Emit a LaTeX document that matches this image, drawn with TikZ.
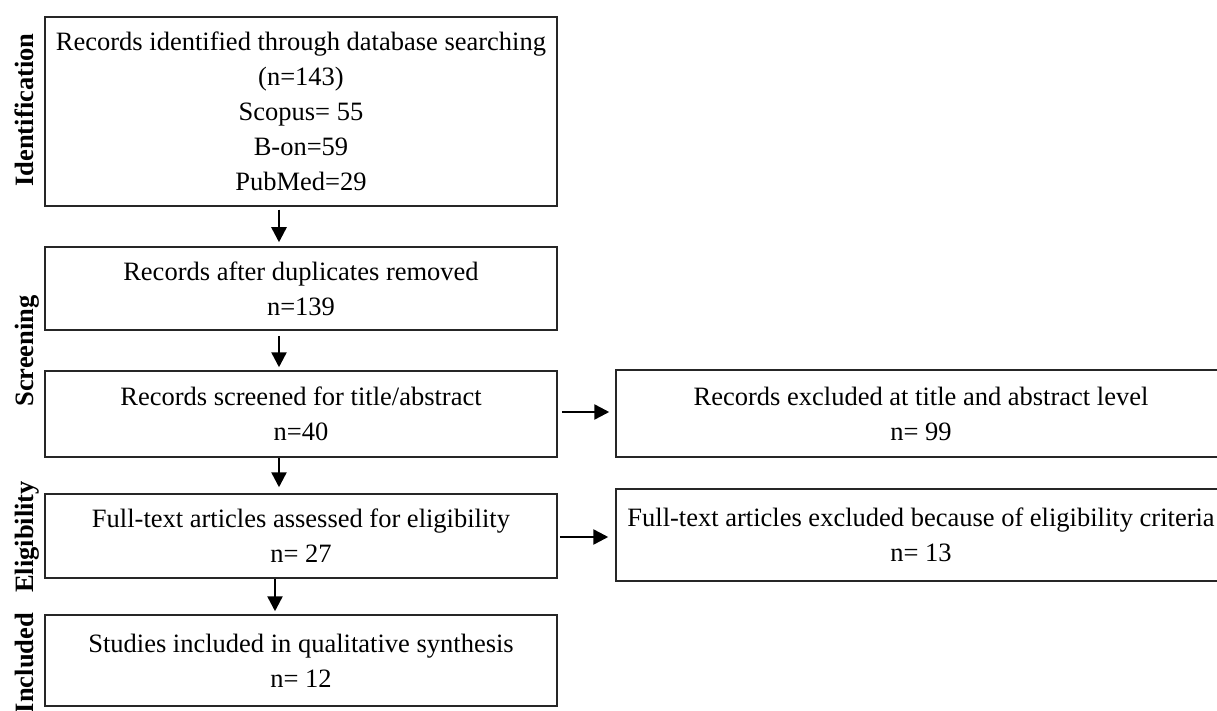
\documentclass[tikz,border=0pt]{standalone}
\usepackage{fontspec}
\setmainfont{Liberation Serif}
\usetikzlibrary{arrows.meta}
\begin{document}
\begin{tikzpicture}[x=1pt,y=-1pt,
  box/.style={draw=black!85, line width=1.5pt, minimum width=512pt, inner sep=0pt, align=center, font=\fontsize{26.5}{35}\selectfont},
  rbox/.style={box, minimum width=610pt},
  lab/.style={rotate=90, anchor=base, inner sep=0pt, font=\fontsize{26.5}{30}\selectfont\bfseries},
  arr/.style={line width=2.5pt, -{Triangle[length=15pt,width=15pt]}}]
\useasboundingbox (0,0) rectangle (1217,711);
\clip (0,0) rectangle (1217,711);
\node[box, minimum height=189pt] (b1) at (301,111.5) {Records identified through database searching\\(n=143)\\Scopus= 55\\B-on=59\\PubMed=29};
\node[box, minimum height=83pt] (b2) at (301,288.5) {Records after duplicates removed\\n=139};
\node[box, minimum height=86pt] (b3) at (301,414) {Records screened for title/abstract\\n=40};
\node[box, minimum height=84pt] (b4) at (301,536) {Full-text articles assessed for eligibility\\n= 27};
\node[box, minimum height=91pt] (b5) at (301,660.5) {Studies included in qualitative synthesis\\n= 12};
\node[rbox, minimum height=87pt] (r1) at (921,413.5) {Records excluded at title and abstract level\\n= 99};
\node[rbox, minimum height=92pt] (r2) at (921,535) {Full-text articles excluded because of eligibility criteria\\n= 13};
\draw[arr, shorten <=3pt, shorten >=4pt] ([xshift=-22pt]b1.south) -- ([xshift=-22pt]b2.north);
\draw[arr, shorten <=5pt, shorten >=3pt] ([xshift=-22pt]b2.south) -- ([xshift=-22pt]b3.north);
\draw[arr, shorten <=0pt, shorten >=6pt] ([xshift=-22pt]b3.south) -- ([xshift=-22pt]b4.north);
\draw[arr, shorten <=0pt, shorten >=3pt] ([xshift=-26pt]b4.south) -- ([xshift=-26pt]b5.north);
\draw[arr, shorten <=4pt, shorten >=6pt] ([yshift=2pt]b3.east) -- ([yshift=1.5pt]r1.west);
\draw[arr, shorten <=2pt, shorten >=7pt] ([yshift=-1pt]b4.east) -- ([yshift=-2pt]r2.west);
\node[lab] (l1) at (33,110) {Identification};
\node[lab] (l2) at (33,351) {Screening};
\node[lab] (l3) at (33,537) {Eligibility};
\node[lab] (l4) at (33,663) {Included};
\end{tikzpicture}
\end{document}
